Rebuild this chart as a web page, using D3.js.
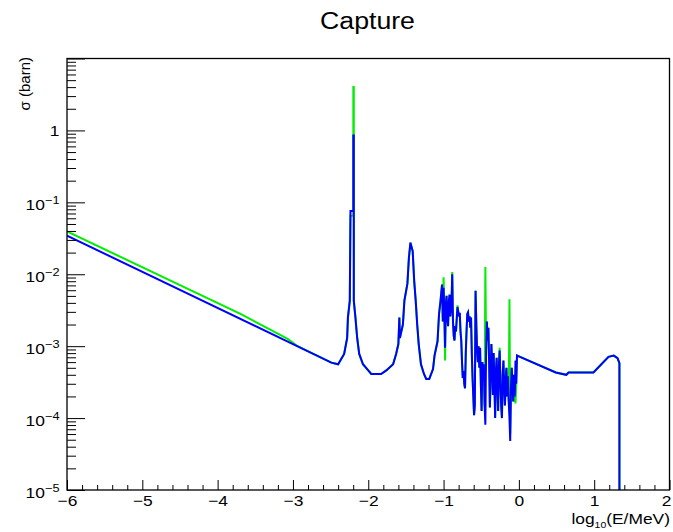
<!DOCTYPE html>
<html>
<head>
<meta charset="utf-8">
<script src="https://cdn.jsdelivr.net/npm/d3@7"></script>
<style>
  body { margin: 0; background: #fff; }
  text { font-family: "Liberation Sans", Arial, sans-serif; fill: #000; }
</style>
</head>
<body>
<script>
// log10(E/MeV), sigma (barn)
const blueData = [
  [-6.00, 3.44e-2], [-3.00, 1.07e-3],
  [-2.49, 5.9e-4], [-2.40, 5.6e-4], [-2.32, 7.8e-4],
  [-2.28, 1.3e-3], [-2.27, 2.5e-3], [-2.245, 4.3e-3], [-2.236, 7.6e-2], [-2.198, 7.6e-2],
  [-2.198, 0.85], [-2.192, 0.85], [-2.192, 4.3e-3], [-2.17, 2.5e-3], [-2.147, 1.3e-3],
  [-2.12, 7.8e-4], [-2.07, 5.6e-4], [-2.00, 4.6e-4], [-1.96, 4.1e-4], [-1.83, 4.1e-4],
  [-1.76, 4.6e-4], [-1.67, 5.6e-4], [-1.63, 7.8e-4], [-1.60, 1.07e-3], [-1.587, 2.5e-3],
  [-1.58, 1.3e-3], [-1.54, 2.0e-3], [-1.52, 4.3e-3], [-1.48, 7.4e-3], [-1.46, 1.7e-2],
  [-1.44, 2.75e-2], [-1.41, 2.1e-2], [-1.39, 8.1e-3], [-1.37, 4.3e-3], [-1.35, 2.0e-3],
  [-1.33, 1.07e-3], [-1.30, 5.6e-4], [-1.26, 4.1e-4], [-1.23, 3.5e-4], [-1.19, 3.5e-4],
  [-1.14, 4.8e-4], [-1.12, 7.4e-4], [-1.08, 1.17e-3], [-1.06, 2.8e-3], [-1.04, 4.3e-3],
  [-1.020, 7.2e-3], [-1.010, 2.2e-3], [-1.000, 6.5e-3], [-0.990, 3.0e-3], [-0.980, 9.5e-4],
  [-0.970, 3.8e-3], [-0.960, 5.0e-3], [-0.950, 2.4e-3], [-0.940, 1.9e-3], [-0.930, 4.2e-3],
  [-0.920, 5.2e-3], [-0.910, 2.6e-3], [-0.900, 3.4e-3], [-0.890, 6.0e-3], [-0.885, 1.0e-2],
  [-0.875, 2.2e-3], [-0.865, 1.4e-3], [-0.855, 1.2e-3], [-0.845, 1.9e-3], [-0.835, 1.6e-3],
  [-0.825, 2.4e-3], [-0.815, 3.5e-3], [-0.805, 3.0e-3], [-0.795, 2.6e-3], [-0.785, 2.9e-3],
  [-0.775, 1.6e-3], [-0.765, 1.2e-3], [-0.755, 6.0e-4], [-0.745, 3.6e-4], [-0.735, 4.5e-4],
  [-0.725, 3.0e-4], [-0.715, 2.6e-4], [-0.705, 8.0e-4], [-0.695, 1.6e-3], [-0.685, 2.8e-3],
  [-0.675, 2.95e-3], [-0.665, 2.2e-3], [-0.655, 2.6e-3], [-0.645, 1.8e-3], [-0.635, 2.5e-3],
  [-0.625, 8.0e-4], [-0.615, 3.6e-4], [-0.605, 2.0e-4], [-0.595, 1.1e-4], [-0.585, 1.5e-4],
  [-0.575, 5.9e-3], [-0.565, 2.0e-3], [-0.555, 8.7e-4], [-0.545, 6.0e-4], [-0.535, 1.0e-3],
  [-0.525, 5.0e-4], [-0.515, 9.5e-4], [-0.505, 3.0e-4], [-0.495, 1.26e-4], [-0.485, 6.0e-4],
  [-0.475, 3.5e-4], [-0.465, 5.6e-4], [-0.455, 1.5e-4], [-0.445, 8.1e-5], [-0.435, 9.0e-4],
  [-0.425, 2.2e-3], [-0.415, 1.2e-3], [-0.405, 1.8e-3], [-0.395, 6.0e-4], [-0.385, 1.4e-4],
  [-0.375, 4.0e-4], [-0.365, 1.07e-3], [-0.355, 5.0e-4], [-0.345, 2.1e-4], [-0.335, 8.0e-4],
  [-0.325, 3.0e-4], [-0.315, 1.0e-4], [-0.305, 4.5e-4], [-0.295, 6.9e-4], [-0.285, 2.5e-4],
  [-0.275, 1.26e-4], [-0.265, 5.5e-4], [-0.255, 8.7e-4], [-0.245, 3.0e-4], [-0.235, 1.5e-4],
  [-0.225, 1.0e-4], [-0.215, 4.0e-4], [-0.205, 6.3e-4], [-0.195, 2.5e-4], [-0.185, 1.5e-4],
  [-0.175, 3.5e-4], [-0.165, 5.0e-4], [-0.155, 2.0e-4], [-0.145, 3.8e-4], [-0.135, 1.7e-4],
  [-0.125, 1.0e-4], [-0.115, 4.8e-5], [-0.105, 2.5e-4], [-0.095, 5.0e-4], [-0.085, 3.0e-4],
  [-0.075, 1.7e-4], [-0.065, 4.0e-4], [-0.055, 2.0e-4], [-0.045, 6.3e-4], [-0.035, 3.0e-4],
  [-0.025, 7.4e-4], [0.00, 7.2e-4], [0.49, 4.3e-4], [0.63, 4.0e-4],
  [0.66, 4.3e-4], [0.99, 4.3e-4], [1.19, 7.1e-4], [1.26, 7.4e-4], [1.31, 6.8e-4],
  [1.335, 5.8e-4], [1.335, 1e-6]
];

const greenData = [
  [-6.00, 3.94e-2], [-3.69, 2.79e-3], [-3.07, 1.26e-3], [-2.95, 1.02e-3],
  [-2.49, 5.9e-4], [-2.40, 5.6e-4], [-2.32, 7.8e-4], [-2.28, 1.3e-3], [-2.27, 2.5e-3],
  [-2.245, 4.3e-3], [-2.236, 6.5e-2], [-2.198, 6.5e-2], [-2.198, 4.0], [-2.192, 4.0],
  [-2.192, 4.3e-3], [-2.17, 2.5e-3], [-2.147, 1.3e-3], [-2.12, 7.8e-4], [-2.07, 5.6e-4],
  [-2.00, 4.6e-4], [-1.96, 4.1e-4], [-1.83, 4.1e-4], [-1.76, 4.6e-4], [-1.67, 5.6e-4],
  [-1.63, 7.8e-4], [-1.60, 1.07e-3], [-1.587, 2.5e-3], [-1.58, 1.3e-3], [-1.54, 2.0e-3],
  [-1.52, 4.3e-3], [-1.48, 7.4e-3], [-1.46, 1.7e-2], [-1.44, 2.75e-2], [-1.41, 2.1e-2],
  [-1.39, 8.1e-3], [-1.37, 4.3e-3], [-1.35, 2.0e-3], [-1.33, 1.07e-3], [-1.30, 5.6e-4],
  [-1.26, 4.1e-4], [-1.23, 3.5e-4], [-1.19, 3.5e-4], [-1.14, 4.8e-4], [-1.12, 7.4e-4],
  [-1.08, 1.17e-3], [-1.06, 2.8e-3], [-1.04, 4.3e-3],
  [-1.020, 7.2e-3], [-1.010, 2.2e-3], [-1.000, 9.1e-3], [-0.990, 3.0e-3], [-0.980, 6.3e-4],
  [-0.970, 3.8e-3], [-0.960, 5.0e-3], [-0.950, 2.4e-3], [-0.940, 1.9e-3], [-0.930, 4.2e-3],
  [-0.920, 5.2e-3], [-0.910, 2.6e-3], [-0.900, 3.4e-3], [-0.890, 6.0e-3], [-0.885, 1.07e-2],
  [-0.875, 2.2e-3], [-0.865, 1.4e-3], [-0.855, 1.2e-3], [-0.845, 1.9e-3], [-0.835, 1.6e-3],
  [-0.825, 2.4e-3], [-0.815, 3.7e-3], [-0.805, 3.0e-3], [-0.795, 2.6e-3], [-0.785, 2.9e-3],
  [-0.775, 1.6e-3], [-0.765, 1.2e-3], [-0.755, 6.0e-4], [-0.745, 3.6e-4], [-0.735, 4.5e-4],
  [-0.725, 3.0e-4], [-0.715, 2.6e-4], [-0.705, 8.0e-4], [-0.695, 1.6e-3], [-0.685, 2.8e-3],
  [-0.675, 2.95e-3], [-0.665, 2.2e-3], [-0.655, 2.6e-3], [-0.645, 1.8e-3], [-0.635, 2.5e-3],
  [-0.625, 8.0e-4], [-0.615, 3.6e-4], [-0.605, 2.0e-4], [-0.595, 1.1e-4], [-0.585, 1.5e-4],
  [-0.575, 5.9e-3], [-0.565, 2.0e-3], [-0.555, 8.7e-4], [-0.545, 6.0e-4], [-0.535, 1.0e-3],
  [-0.525, 5.0e-4], [-0.515, 9.5e-4], [-0.505, 3.0e-4], [-0.495, 1.26e-4], [-0.485, 6.0e-4],
  [-0.475, 3.5e-4], [-0.465, 5.6e-4], [-0.455, 1.5e-4], [-0.445, 1.26e-2], [-0.435, 9.0e-4],
  [-0.425, 2.2e-3], [-0.415, 1.2e-3], [-0.405, 1.8e-3], [-0.395, 6.0e-4], [-0.385, 1.4e-4],
  [-0.375, 4.0e-4], [-0.365, 1.07e-3], [-0.355, 5.0e-4], [-0.345, 2.1e-4], [-0.335, 8.0e-4],
  [-0.325, 3.0e-4], [-0.315, 1.0e-4], [-0.305, 4.5e-4], [-0.295, 6.9e-4], [-0.285, 2.5e-4],
  [-0.275, 1.26e-4], [-0.265, 5.5e-4], [-0.255, 9.5e-4], [-0.245, 3.0e-4], [-0.235, 1.5e-4],
  [-0.225, 1.0e-4], [-0.215, 4.0e-4], [-0.205, 6.3e-4], [-0.195, 2.5e-4], [-0.185, 1.5e-4],
  [-0.175, 3.5e-4], [-0.165, 5.0e-4], [-0.155, 2.0e-4], [-0.145, 3.8e-4], [-0.135, 1.7e-4],
  [-0.125, 4.5e-3], [-0.115, 6.0e-5], [-0.105, 2.5e-4], [-0.095, 5.0e-4], [-0.085, 3.0e-4],
  [-0.075, 1.7e-4], [-0.065, 4.0e-4], [-0.055, 2.0e-4], [-0.045, 1.6e-4], [-0.035, 3.0e-4],
  [-0.025, 7.4e-4], [0.00, 7.2e-4], [0.49, 4.3e-4], [0.63, 4.0e-4],
  [0.66, 4.3e-4], [0.99, 4.3e-4], [1.19, 7.1e-4], [1.26, 7.4e-4], [1.31, 6.8e-4],
  [1.335, 5.8e-4], [1.335, 1e-6]
];

const xMajor = [-6, -5, -4, -3, -2, -1, 0, 1, 2];
const yExponents = [-5, -4, -3, -2, -1, 0, 1];

const width = 673, height = 532;
const frameLeft = 67, frameRight = 669.5, frameTop = 58.5, frameBottom = 490;
const stretch = 1.16;   // text in the reference is drawn a bit wide

const x = d3.scaleLinear().domain([-6, 2]).range([frameLeft, frameRight]);
const y = d3.scaleLog().domain([1e-5, 10]).range([frameBottom, frameTop]);

const svg = d3.select("body").append("svg")
    .attr("width", width)
    .attr("height", height);

svg.append("clipPath").attr("id", "frame-clip")
  .append("rect")
    .attr("x", frameLeft).attr("y", frameTop)
    .attr("width", frameRight - frameLeft).attr("height", frameBottom - frameTop);

// curves
const line = d3.line()
    .x(d => x(d[0]))
    .y(d => y(d[1]));

const plot = svg.append("g").attr("clip-path", "url(#frame-clip)");
plot.append("path")
    .datum(greenData)
    .attr("d", line)
    .attr("fill", "none")
    .attr("stroke", "#00ee00")
    .attr("stroke-width", 2);
plot.append("path")
    .datum(blueData)
    .attr("d", line)
    .attr("fill", "none")
    .attr("stroke", "#0000ff")
    .attr("stroke-width", 2);

// x axis: major + minor ticks pointing inward
const xMinor = d3.range(-6, 2.001, 0.2).filter(v => Math.abs(v - Math.round(v)) > 1e-6);

svg.append("g")
    .attr("transform", `translate(0,${frameBottom})`)
    .call(d3.axisBottom(x).tickValues(xMinor).tickSizeInner(-5).tickSizeOuter(0).tickFormat(""))
    .call(g => g.select(".domain").remove());

const xAxis = svg.append("g")
    .attr("transform", `translate(0,${frameBottom})`)
    .call(d3.axisBottom(x).tickValues(xMajor).tickSizeInner(-10).tickSizeOuter(0).tickPadding(5)
      .tickFormat(d3.format("")))
    .call(g => g.select(".domain").remove());
xAxis.attr("font-size", 15).attr("font-family", null);
xAxis.selectAll("text")
    .attr("transform", `scale(${stretch},1)`)
    .attr("dx", d => d === 2 ? -3 : 0);

// y axis ticks
const yMinor = [];
for (const k of yExponents.slice(0, -1)) {
  for (let m = 2; m <= 9; m++) yMinor.push(m * Math.pow(10, k));
}
svg.append("g")
    .attr("transform", `translate(${frameLeft},0)`)
    .call(d3.axisLeft(y).tickValues(yMinor).tickSizeInner(-9).tickSizeOuter(0).tickFormat(""))
    .call(g => g.select(".domain").remove());
svg.append("g")
    .attr("transform", `translate(${frameLeft},0)`)
    .call(d3.axisLeft(y).tickValues(yExponents.map(k => Math.pow(10, k))).tickSizeInner(-18).tickSizeOuter(0).tickFormat(""))
    .call(g => g.select(".domain").remove());

// y tick labels, ROOT style 10^k
const yLabels = svg.append("g");
yExponents.filter(k => k <= 0).forEach(k => {
  const ty = y(Math.pow(10, k));
  const t = yLabels.append("text")
      .attr("transform", `translate(59.5,${k === 0 ? ty + 5.5 : ty + 8}) scale(${stretch},1)`)
      .attr("text-anchor", "end")
      .attr("font-size", 15);
  if (k === 0) {
    t.text("1");
  } else {
    t.append("tspan").text("10");
    t.append("tspan").attr("font-size", 11).attr("dy", -6.5).text("\u2212" + (-k));
  }
});

// frame
svg.append("rect")
    .attr("x", frameLeft).attr("y", frameTop)
    .attr("width", frameRight - frameLeft).attr("height", frameBottom - frameTop)
    .attr("fill", "none")
    .attr("stroke", "#000")
    .attr("stroke-width", 1.3);

// titles
svg.append("text")
    .attr("transform", `translate(367.5,29) scale(${stretch},1)`)
    .attr("text-anchor", "middle")
    .attr("font-size", 23)
    .text("Capture");

const xTitle = svg.append("text")
    .attr("transform", `translate(670,524) scale(${stretch},1)`)
    .attr("text-anchor", "end")
    .attr("font-size", 15);
xTitle.append("tspan").text("log");
xTitle.append("tspan").attr("font-size", 9).attr("dy", 3.5).text("10");
xTitle.append("tspan").attr("dy", -3.5).text("(E/MeV)");

svg.append("text")
    .attr("transform", "translate(30,57) rotate(-90)")
    .attr("text-anchor", "end")
    .attr("font-size", 15)
    .text("\u03c3 (barn)");
</script>
</body>
</html>
